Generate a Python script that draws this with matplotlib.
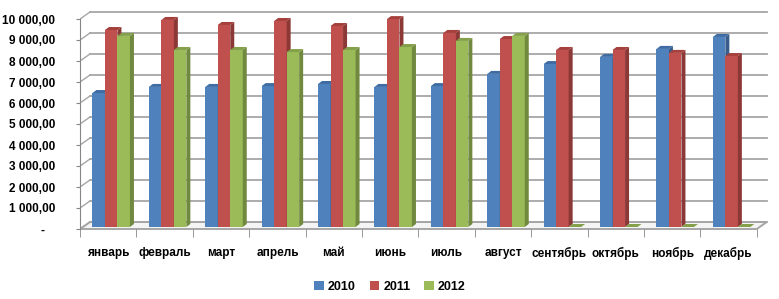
import numpy as np
import matplotlib
matplotlib.use("Agg")
import matplotlib.pyplot as plt
from matplotlib.patches import Polygon, Patch

plt.rcParams['font.family'] = ['Liberation Sans', 'DejaVu Sans']

months = ['январь', 'февраль', 'март', 'апрель', 'май', 'июнь',
          'июль', 'август', 'сентябрь', 'октябрь', 'ноябрь', 'декабрь']
years = ['2010', '2011', '2012']
v2010 = [6380, 6670, 6670, 6710, 6810, 6670, 6710, 7290, 7760, 8100, 8480, 9050]
v2011 = [9380, 9860, 9620, 9810, 9570, 9900, 9240, 8950, 8430, 8430, 8290, 8140]
v2012 = [9100, 8430, 8430, 8330, 8430, 8570, 8860, 9100, 0, 0, 0, 0]
yticks = list(range(0, 10001, 1000))

front = ['#4F81BD', '#C0504D', '#9BBB59']
side = ['#385D8A', '#8C3836', '#71893F']
top = ['#3F6CA3', '#A5403D', '#84A04A']

# pixel scale: 56.4 px per category, 21 px per 1000
pxx = 1 / 56.4
pxy = 1000 / 21
fdx, fdy = 10 * pxx, 7 * pxy      # floor / wall depth
bdx, bdy = 4 * pxx, 3 * pxy       # bar depth
sx, sy = 3 * pxx, 2 * pxy         # bar front shift into the floor
w = 12.5 * pxx

fig = plt.figure(figsize=(7.79, 2.99), dpi=100)
ymin, ymax = -600, 10600
xmax = 12.25
ax = fig.add_axes([80 / 779, (299 - (229 + (-ymin) / pxy)) / 299,
                   xmax / pxx / 779, (ymax - ymin) / pxy / 299])
ax.set_xlim(0, xmax)
ax.set_ylim(ymin, ymax)

grid = '#a6a6a6'
# floor
ax.add_patch(Polygon([(0, 0), (12, 0), (12 + fdx, fdy), (fdx, fdy)],
                     closed=True, facecolor='#f4f4f4', edgecolor=grid, lw=1.4, zorder=1))
# back wall and left wall gridlines
for v in yticks:
    ax.plot([fdx, 12 + fdx], [v + fdy, v + fdy], color=grid, lw=1.3, zorder=1)
    ax.plot([0, fdx], [v, v + fdy], color=grid, lw=1.0, zorder=1)

series = [v2010, v2011, v2012]
z = 2
for i in range(len(months)):
    for j, vals in enumerate(series):
        x0 = i + 0.5 - 1.5 * w + j * w + sx
        x1 = x0 + w
        b = sy
        t = vals[i] + sy
        ax.add_patch(Polygon([(x0, b), (x1, b), (x1, t), (x0, t)], closed=True,
                             facecolor=front[j], edgecolor='none', zorder=z))
        ax.add_patch(Polygon([(x1, b), (x1 + bdx, b + bdy), (x1 + bdx, t + bdy), (x1, t)],
                             closed=True, facecolor=side[j], edgecolor='none', zorder=z))
        ax.add_patch(Polygon([(x0, t), (x0 + bdx, t + bdy), (x1 + bdx, t + bdy), (x1, t)],
                             closed=True, facecolor=top[j], edgecolor='none', zorder=z))
        z += 1

for s in ['top', 'right']:
    ax.spines[s].set_visible(False)
ax.spines['left'].set_bounds(0, 10000)
ax.spines['left'].set_color('#868686')
ax.spines['bottom'].set_position(('data', 0))
ax.spines['bottom'].set_visible(False)


def fmt(v):
    if v == 0:
        return '-   '
    return f"{v:,.2f}".replace(',', ' ').replace('.', ',')


ax.set_yticks(yticks)
ax.set_yticklabels([fmt(v) for v in yticks], fontsize=8.5, fontweight='bold')
ax.tick_params(axis='y', direction='out', length=3, color='#868686', pad=15)

ax.set_xticks(np.arange(len(months)) + 0.5)
ax.set_xticklabels(months, fontsize=8.5, fontweight='bold')
ax.set_xticks(np.arange(13), minor=True)
ax.tick_params(axis='x', which='major', length=0, pad=13)
ax.tick_params(axis='x', which='minor', direction='out', length=6, color='#868686')

handles = [Patch(facecolor=front[k], edgecolor='none', label=years[k]) for k in range(3)]
leg = fig.legend(handles=handles, loc='center', bbox_to_anchor=(390 / 779, 12 / 299),
                 ncol=3, frameon=False, handlelength=0.75, handleheight=0.75,
                 handletextpad=0.35, columnspacing=1.1,
                 prop={'size': 9, 'weight': 'bold'})

fig.savefig('out.png', dpi=100)
